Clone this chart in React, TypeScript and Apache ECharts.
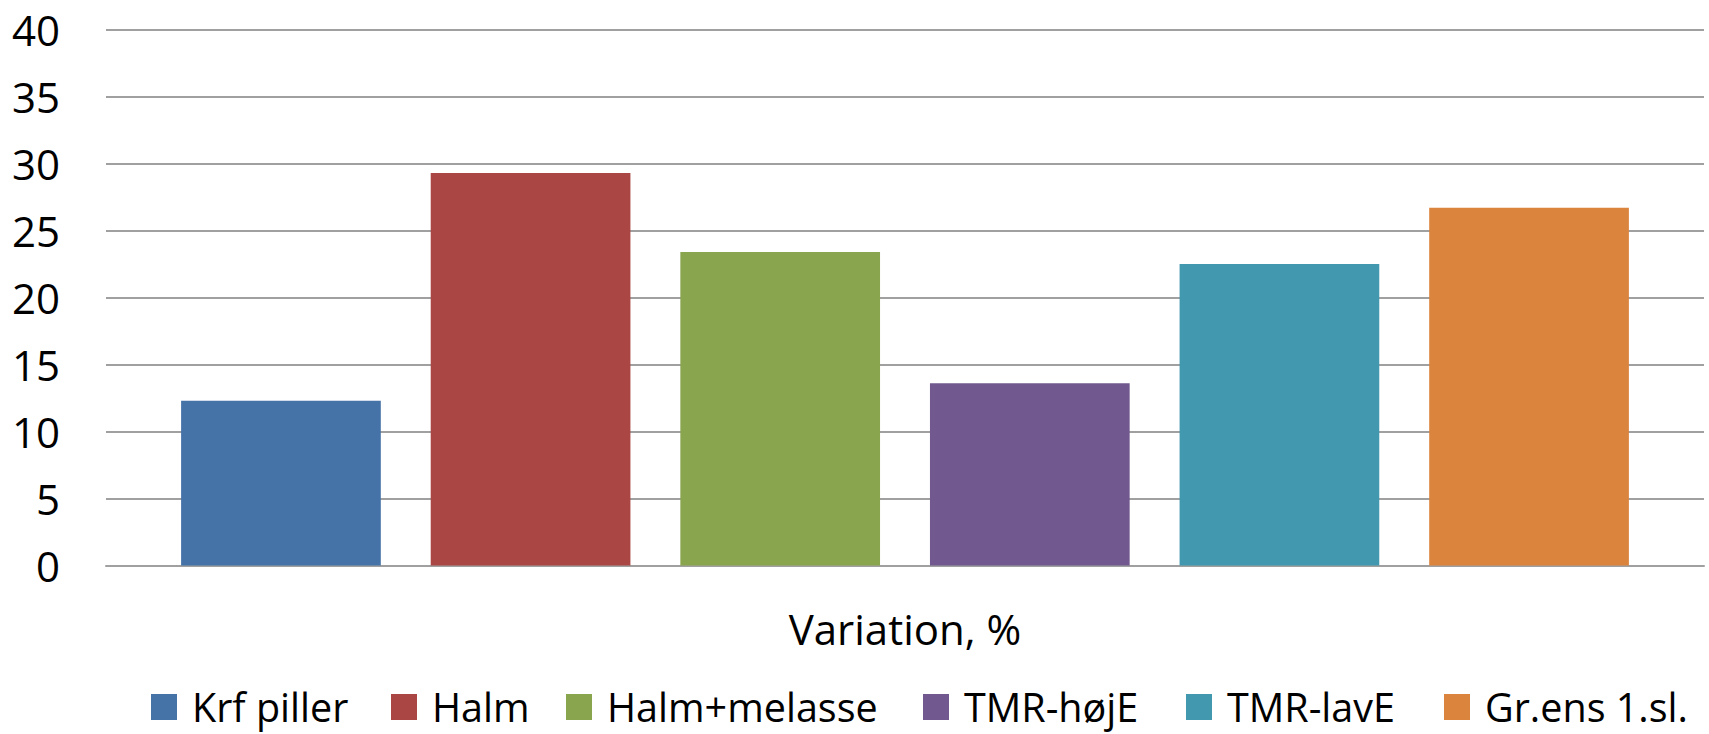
import React, { useEffect, useRef } from "react";
import * as echarts from "echarts";

const categories = ["Variation, %"];
const seriesNames = ["Krf piller", "Halm", "Halm+melasse", "TMR-højE", "TMR-lavE", "Gr.ens 1.sl."];
const seriesValues = [12.3, 29.3, 23.4, 13.6, 22.5, 26.7];
const seriesColors = ["#4572A7", "#AA4643", "#89A54E", "#71588F", "#4198AF", "#DB843D"];
const yTicks = { min: 0, max: 40, interval: 5 };

// layout: left edge of each legend entry's colour key
const legendLefts = [151, 391, 566, 923, 1186, 1444];

const FONT = "'Open Sans', Lato, sans-serif";

export default function App() {
  const ref = useRef<HTMLDivElement>(null);
  useEffect(() => {
    if (!ref.current) return;
    const chart = echarts.init(ref.current, undefined, { renderer: "svg" });
    chart.setOption({
      animation: false,
      backgroundColor: "#ffffff",
      textStyle: { fontFamily: FONT },
      grid: { left: 106, right: 5, top: 29.5, bottom: 168.5, containLabel: false },
      legend: seriesNames.map((name, i) => ({
        left: legendLefts[i],
        top: 687,
        padding: 0,
        itemWidth: 26,
        itemHeight: 26,
        icon: "rect",
        data: [name],
        textStyle: { fontSize: 39.5, color: "#000", fontFamily: FONT, lineHeight: 40, padding: [0, 0, 0, 10] },
      })),
      xAxis: {
        type: "category",
        data: categories,
        axisTick: { show: false },
        axisLine: { show: true, lineStyle: { color: "#a0a0a0", width: 2 } },
        axisLabel: { fontSize: 42, color: "#000", margin: 42, fontFamily: FONT },
      },
      yAxis: {
        type: "value",
        min: yTicks.min,
        max: yTicks.max,
        interval: yTicks.interval,
        axisLine: { show: false },
        axisTick: { show: false },
        axisLabel: { fontSize: 42, color: "#000", margin: 46, fontFamily: FONT },
        splitLine: { show: true, lineStyle: { color: "#a0a0a0", width: 2 } },
      },
      series: seriesNames.map((name, i) => ({
        name,
        type: "bar",
        data: [seriesValues[i]],
        itemStyle: { color: seriesColors[i] },
        barGap: "25%",
        barCategoryGap: "9.4%",
      })),
    });
    return () => chart.dispose();
  }, []);
  return (
    <div
      ref={ref}
      style={{ position: "fixed", left: 0, top: 0, width: 1709, height: 734 }}
    />
  );
}
